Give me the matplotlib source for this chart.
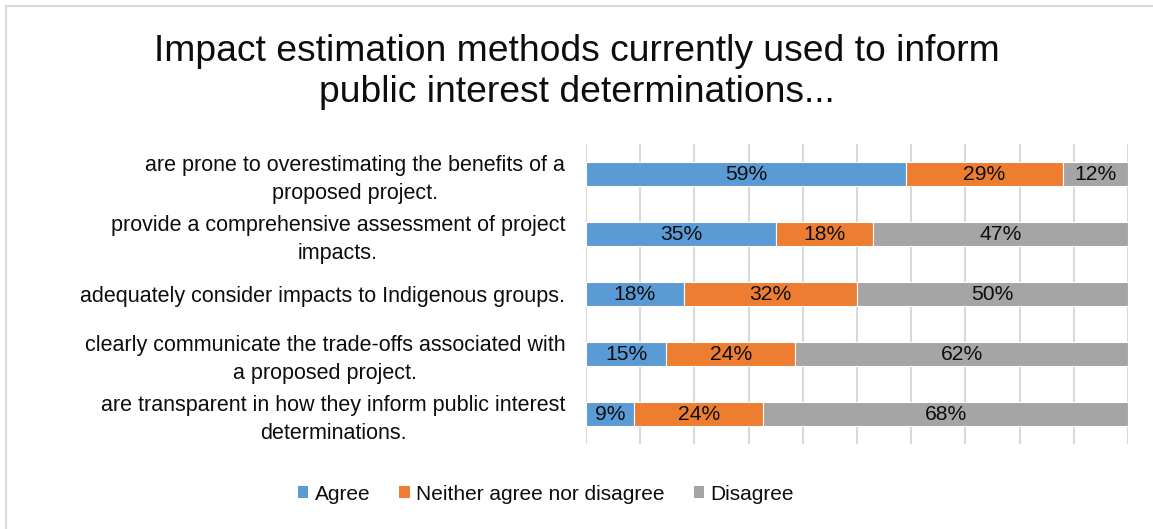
import matplotlib
matplotlib.use("Agg")
import matplotlib.pyplot as plt
from matplotlib.patches import Patch
from matplotlib.lines import Line2D
import numpy as np

plt.rcParams['font.family'] = ['Liberation Sans', 'DejaVu Sans']

categories = [
    "are prone to overestimating the benefits of a\nproposed project.",
    "provide a comprehensive assessment of project\nimpacts.",
    "adequately consider impacts to Indigenous groups.",
    "clearly communicate the trade-offs associated with\na proposed project.",
    "are transparent in how they inform public interest\ndeterminations.",
]
series_names = ["Agree", "Neither agree nor disagree", "Disagree"]
agree = [59, 35, 18, 15, 9]
neither = [29, 18, 32, 24, 24]
disagree = [12, 47, 50, 62, 68]
colors = ["#5B9BD5", "#ED7D31", "#A5A5A5"]
title = "Impact estimation methods currently used to inform\npublic interest determinations..."

W, H = 1153, 529
fig = plt.figure(figsize=(W / 100, H / 100), dpi=100)
ax = fig.add_axes([586 / W, 1 - 444 / H, (1128 - 586) / W, 300 / H])

values = np.array([agree, neither, disagree], dtype=float)
totals = values.sum(axis=0)
shares = values / totals * 100  # 100% stacked
y = np.arange(len(categories))
left = np.zeros(len(categories))
for vals, pct, name, col in zip(values, shares, series_names, colors):
    ax.barh(y, pct, left=left, height=0.4, color=col,
            edgecolor="white", linewidth=0.8, label=name, zorder=2)
    for yi, l, w, v in zip(y, left, pct, vals):
        ax.text(l + w / 2, yi, f"{int(v)}%", ha="center", va="center",
                fontsize=15.2, color="#0d0d0d", zorder=3)
    left += pct

ax.set_xlim(0, 100)
ax.set_ylim(len(categories) - 0.5, -0.5)
ax.set_xticks(np.arange(0, 101, 10))
ax.xaxis.set_tick_params(length=0, labelbottom=False)
ax.grid(axis="x", color="#D9D9D9", linewidth=1.5, zorder=0)
ax.set_axisbelow(True)
ax.set_yticks(y)
ax.set_yticklabels(categories, fontsize=15.5, color="#0d0d0d",
                   multialignment="center", linespacing=1.38)
ax.tick_params(axis="y", length=0, pad=15)
for s in ax.spines.values():
    s.set_visible(False)

fig.text(0.5, 1 - 72 / H, title, ha="center", va="center", fontsize=26.8,
         color="#0d0d0d", linespacing=1.22)

handles = [Patch(facecolor=c, edgecolor="none") for c in colors]
fig.legend(handles, series_names, loc="center", bbox_to_anchor=(546 / W, 1 - 494 / H),
           ncol=3, frameon=False, fontsize=15, handlelength=0.5,
           handleheight=0.5, handletextpad=0.3, columnspacing=1.4,
           labelcolor="#0d0d0d")

# chart area border (left and top edges)
fig.add_artist(Line2D([5.5 / W, 5.5 / W], [0, 1 - 5.5 / H], transform=fig.transFigure,
                      color="#D9D9D9", linewidth=1.5))
fig.add_artist(Line2D([5.5 / W, 1], [1 - 5.5 / H, 1 - 5.5 / H], transform=fig.transFigure,
                      color="#D9D9D9", linewidth=1.5))

fig.savefig("out.png", dpi=100, facecolor="white")
